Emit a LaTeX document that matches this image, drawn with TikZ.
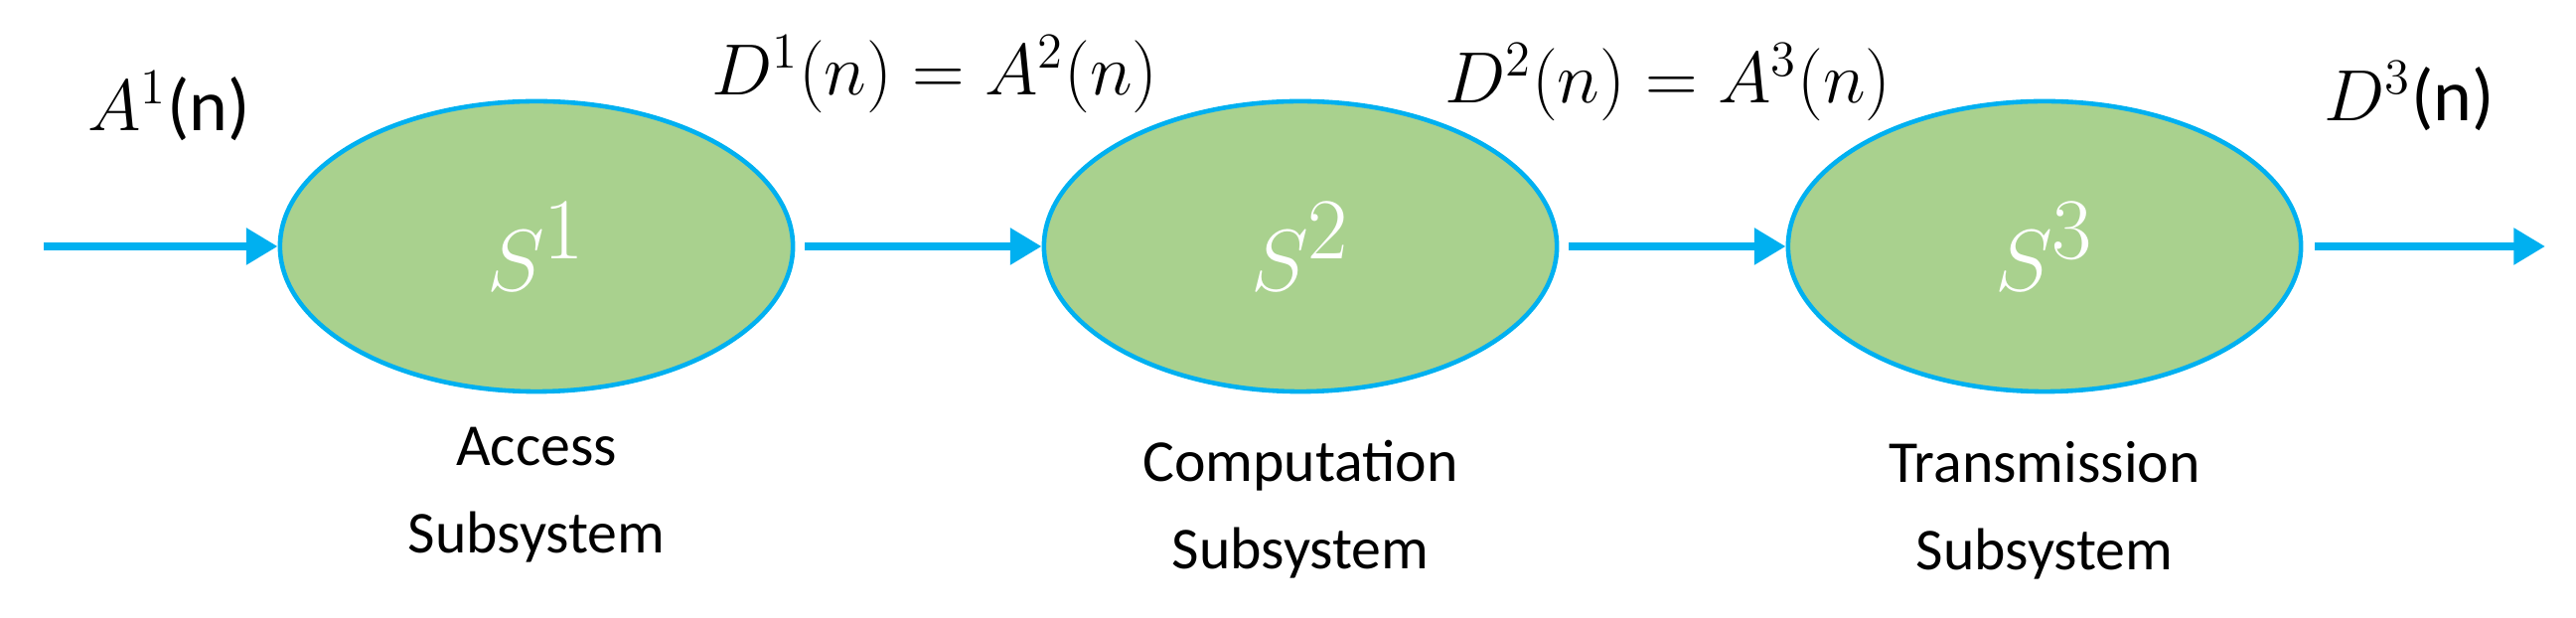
\documentclass[tikz,border=0pt]{standalone}
\usepackage{fontspec}
\setmainfont{Carlito}
\usetikzlibrary{arrows.meta,shapes.geometric}
\definecolor{sgreen}{HTML}{A9D18E}
\definecolor{sblue}{HTML}{00B0F0}
\begin{document}
\begin{tikzpicture}[x=0.01cm,y=-0.01cm,
  sub/.style={ellipse,draw=sblue,line width=1.3pt,fill=sgreen,minimum width=5.16cm,minimum height=2.92cm,inner sep=0pt,text=white,font=\fontsize{37}{40}\selectfont},
  flow/.style={draw=sblue,line width=2.4pt,-{Triangle[length=9pt,width=10pt]}},
  lbl/.style={font=\fontsize{17}{25}\selectfont,align=center},
  mlbl/.style={font=\fontsize{21}{25}\selectfont}]
\useasboundingbox (0,0) rectangle (2593,622);
\node[sub] (s1) at (540,248) {$S^1$};
\node[sub] (s2) at (1309,248) {$S^2$};
\node[sub] (s3) at (2058,248) {$S^3$};
\coordinate (in) at (44,248);
\coordinate (out) at (2562,248);
\draw[flow] (in) -- (s1.west);
\draw[flow] ([xshift=0.1cm]s1.east) -- (s2.west);
\draw[flow] ([xshift=0.1cm]s2.east) -- (s3.west);
\draw[flow] ([xshift=0.12cm]s3.east) -- (out);
\node[mlbl] (a1) at (170,107) {$A^1$(n)};
\node[mlbl] (d1) at (941,75) {$D^1(n)=A^2(n)$};
\node[mlbl] (d2) at (1679,83) {$D^2(n)=A^3(n)$};
\node[mlbl] (d3) at (2425,97) {$D^3$(n)};
\node[lbl] (l1) at (540,498) {Access\\Subsystem};
\node[lbl] (l2) at (1309,513) {Computation\\Subsystem};
\node[lbl] (l3) at (2058,514) {Transmission\\Subsystem};
\end{tikzpicture}
\end{document}
